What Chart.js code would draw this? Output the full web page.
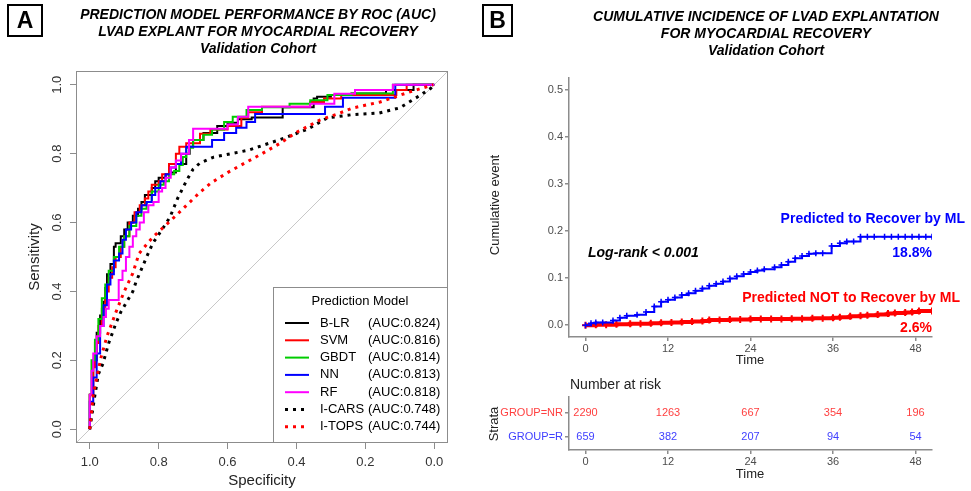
<!DOCTYPE html>
<html>
<head>
<meta charset="utf-8">
<title>LVAD explant - ROC and cumulative incidence</title>
<script src="https://cdn.jsdelivr.net/npm/chart.js"></script>
<style>
  body { margin: 0; background: #fff; font-family: "Liberation Sans", Arial, sans-serif; }
  #page { position: relative; width: 971px; height: 491px; overflow: hidden; }
  canvas { position: absolute; }
  .tag { position: absolute; border: 2px solid #000; box-sizing: border-box; font-weight: bold; font-size: 23px; text-align: center; }
  .title { position: absolute; width: 440px; text-align: center; font-weight: bold; font-style: italic; font-size: 14px; line-height: 17px; color: #000; }
</style>
</head>
<body>
<div id="page">
  <canvas id="rocChart" width="460" height="491" style="left:0;top:0"></canvas>
  <canvas id="kmChart" width="491" height="310" style="left:480px;top:60px"></canvas>
  <canvas id="riskChart" width="491" height="121" style="left:480px;top:370px"></canvas>

  <div class="tag" style="left:7px;top:4px;width:36px;height:33px;line-height:29px;">A</div>
  <div class="title" style="left:38px;top:6px;">PREDICTION MODEL PERFORMANCE BY ROC (AUC)<br>LVAD EXPLANT FOR MYOCARDIAL RECOVERY<br>Validation Cohort</div>

  <div class="tag" style="left:482px;top:4px;width:31px;height:33px;line-height:29px;">B</div>
  <div class="title" style="left:546px;top:8px;">CUMULATIVE INCIDENCE OF LVAD EXPLANTATION<br>FOR MYOCARDIAL RECOVERY<br>Validation Cohort</div>
</div>
<script>
Chart.defaults.font.family = '"Liberation Sans", Arial, sans-serif';
Chart.defaults.animation = false;

// ---- panel A : ROC curves (specificity, sensitivity) ----
const rocTicks = [1.0, 0.8, 0.6, 0.4, 0.2, 0.0];
const modelNames = ['B-LR', 'SVM', 'GBDT', 'NN', 'RF', 'I-CARS', 'I-TOPS'];
const modelAuc = ['(AUC:0.824)', '(AUC:0.816)', '(AUC:0.814)', '(AUC:0.813)', '(AUC:0.818)', '(AUC:0.748)', '(AUC:0.744)'];

const blrSpec = [1, 1, .99, .98, .97, .96, .955, .95, .94, .93, .925, .91, .90, .89, .875, .86, .85, .84, .82, .81, .80, .78, .77, .75, .72, .71, .70, .67, .63, .60, .57, .53, .52, .44, .42, .35, .34, .30, .24, .14, .06, .05, 0];
const blrSens = [0, .03, .1, .2, .28, .33, .37, .41, .45, .48, .53, .54, .56, .58, .6, .62, .64, .66, .68, .70, .72, .73, .74, .745, .77, .80, .82, .84, .86, .88, .89, .90, .905, .905, .935, .935, .96, .965, .97, .975, .985, 1, 1];

const svmSpec = [1, .99, .985, .975, .965, .955, .945, .935, .925, .91, .90, .885, .87, .855, .84, .83, .82, .80, .79, .77, .75, .74, .72, .68, .65, .60, .56, .54, .50, .49, .36, .32, .27, .11, .08, .035, 0];
const svmSens = [0, .1, .18, .25, .3, .35, .4, .44, .47, .5, .53, .56, .6, .63, .65, .67, .69, .71, .72, .74, .77, .8, .82, .83, .858, .87, .88, .904, .92, .936, .936, .95, .96, .97, .985, 1, 1];

const gbdtSpec = [1, .995, .985, .975, .965, .955, .945, .93, .915, .90, .885, .865, .85, .835, .82, .80, .785, .77, .755, .74, .73, .72, .70, .67, .645, .61, .585, .545, .50, .42, .36, .31, .24, .12, .115, 0];
const gbdtSens = [0, .1, .2, .26, .32, .38, .42, .46, .5, .53, .56, .59, .62, .64, .66, .69, .71, .72, .74, .75, .767, .79, .817, .84, .855, .87, .892, .907, .927, .935, .945, .955, .97, .975, 1, 1];

const nnSpec = [1, .99, .98, .97, .96, .95, .94, .93, .915, .905, .895, .88, .865, .85, .835, .82, .81, .795, .78, .765, .75, .735, .72, .70, .645, .61, .575, .545, .52, .50, .317, .265, .113, .11, 0];
const nnSens = [0, .08, .15, .22, .3, .36, .42, .45, .49, .51, .55, .58, .6, .63, .65, .66, .68, .7, .72, .74, .76, .77, .8, .82, .82, .84, .86, .875, .892, .915, .915, .936, .962, 1, 1];

const rfSpec = [1, .995, .99, .98, .97, .96, .953, .945, .933, .916, .905, .895, .885, .875, .865, .855, .843, .83, .815, .80, .79, .78, .765, .75, .735, .712, .70, .68, .60, .57, .54, .50, .36, .29, .23, .12, .10, 0];
const rfSens = [0, .1, .17, .22, .27, .3, .326, .35, .375, .375, .433, .46, .5, .53, .56, .58, .6, .63, .65, .66, .69, .70, .73, .76, .78, .80, .84, .872, .872, .885, .907, .936, .936, .945, .974, .985, 1, 1];

const carsSpec = [1, .985, .975, .962, .945, .924, .91, .895, .875, .866, .855, .835, .817, .79, .767, .745, .718, .70, .68, .64, .54, .45, .37, .31, .24, .16, .10, .04, .01, 0];
const carsSens = [0, .1, .16, .19, .25, .308, .34, .366, .40, .427, .453, .50, .54, .58, .616, .67, .724, .755, .773, .79, .81, .84, .87, .904, .913, .918, .933, .97, .99, 1];

const topsSpec = [1, .99, .968, .95, .924, .90, .875, .857, .817, .785, .75, .712, .68, .648, .60, .544, .50, .448, .398, .331, .282, .235, .157, .078, .003];
const topsSens = [0, .1, .206, .27, .34, .40, .453, .51, .558, .587, .62, .657, .688, .715, .745, .776, .80, .83, .863, .898, .915, .933, .95, .977, 1];

// ---- panel B : cumulative incidence (months, cumulative event) ----
const kmTicksX = [0, 12, 24, 36, 48];
const kmTicksY = [0, 0.1, 0.2, 0.3, 0.4, 0.5];

const blueT = [0, .8, 1.5, 2.5, 4, 5, 6, 7.5, 8.8, 10, 11, 12, 13, 14, 15, 16, 17, 18, 19, 20, 21, 22, 23, 24, 25, 26, 27.5, 28.5, 29.5, 30.5, 31.5, 32.5, 33.5, 34.5, 35.8, 37, 38, 39, 40, 41, 42, 43.5, 44.5, 45.5, 46.5, 47.5, 48.5, 49.5, 50.4];
const blueV = [0, .004, .006, .006, .010, .016, .020, .022, .028, .040, .050, .054, .059, .064, .068, .073, .078, .084, .088, .093, .099, .104, .109, .113, .116, .119, .123, .128, .135, .142, .147, .152, .153, .153, .168, .174, .178, .178, .188, .188, .188, .188, .188, .188, .188, .188, .188, .188, .188];

const redT = [0, 1.5, 3, 4.5, 6.5, 8, 9.5, 11, 12.5, 14, 15.5, 17, 18, 19.5, 21, 22.5, 24, 25.5, 27, 28.5, 30, 31.5, 33, 34.5, 36, 37, 38.5, 40, 41, 42.5, 44, 45, 46.5, 47.5, 48.5, 50.4];
const redV = [0, .001, .001, .002, .003, .003, .004, .005, .006, .007, .008, .009, .011, .011, .012, .012, .013, .013, .013, .013, .014, .014, .015, .015, .016, .017, .019, .020, .021, .023, .025, .026, .027, .028, .030, .030];

// number at risk
const riskTimes = [0, 12, 24, 36, 48];
const riskNR = [2290, 1263, 667, 354, 196];
const riskR = [659, 382, 207, 94, 54];
const strataLabels = ['GROUP=R', 'GROUP=NR'];
const strataColors = ['#4040ff', '#ff4040'];

function pts(xs, ys) { return xs.map((x, i) => ({ x: x, y: ys[i] })); }

// draws free text items given in canvas pixels
const textPlugin = {
  id: 'extraText',
  afterDraw(chart, args, opts) {
    const ctx = chart.ctx;
    (opts.items || []).forEach(it => {
      ctx.save();
      ctx.font = it.font;
      ctx.fillStyle = it.color || '#000';
      ctx.textAlign = it.align || 'center';
      ctx.textBaseline = 'middle';
      ctx.translate(it.x, it.y);
      if (it.rotate) ctx.rotate(it.rotate);
      ctx.fillText(it.text, 0, 0);
      ctx.restore();
    });
  }
};

// box, rotated y labels and legend for the ROC plot
const rocDecor = {
  id: 'rocDecor',
  afterDraw(chart) {
    const { ctx, chartArea: a, scales } = chart;
    ctx.save();
    ctx.strokeStyle = '#8c8c8c';
    ctx.lineWidth = 1;
    ctx.strokeRect(a.left + 0.5, a.top + 0.5, a.right - a.left - 1, a.bottom - a.top - 1);

    ctx.fillStyle = '#333';
    ctx.font = '13px "Liberation Sans"';
    ctx.textAlign = 'center';
    ctx.textBaseline = 'middle';
    rocTicks.forEach(v => {
      ctx.save();
      ctx.translate(57, scales.y.getPixelForValue(v));
      ctx.rotate(-Math.PI / 2);
      ctx.fillText(v.toFixed(1), 0, 0);
      ctx.restore();
    });

    // legend
    const lx = 273, ly = 287;
    ctx.fillStyle = '#fff';
    ctx.fillRect(lx, ly, a.right - lx, a.bottom - ly);
    ctx.strokeRect(lx + 0.5, ly + 0.5, a.right - lx - 1, a.bottom - ly - 1);
    ctx.fillStyle = '#000';
    ctx.fillText('Prediction Model', 360, 301);
    ctx.textAlign = 'left';
    chart.data.datasets.filter(d => d.legendIndex !== undefined).forEach(d => {
      const y = 323 + d.legendIndex * 17.3;
      ctx.save();
      ctx.strokeStyle = d.borderColor;
      ctx.lineWidth = d.borderWidth;
      ctx.setLineDash(d.borderDash || []);
      ctx.beginPath();
      ctx.moveTo(285, y);
      ctx.lineTo(309, y);
      ctx.stroke();
      ctx.restore();
      ctx.fillStyle = '#000';
      ctx.fillText(d.label, 320, y);
      ctx.fillText(modelAuc[d.legendIndex], 368, y);
    });
    ctx.restore();
  }
};

const rocSeries = [
  [blrSpec, blrSens, '#000000', false],
  [svmSpec, svmSens, '#ff0000', false],
  [gbdtSpec, gbdtSens, '#00cc00', false],
  [nnSpec, nnSens, '#0000ff', false],
  [rfSpec, rfSens, '#ff00ff', false],
  [carsSpec, carsSens, '#000000', true],
  [topsSpec, topsSens, '#ff0000', true]
];

const rocDatasets = [{
  data: [{ x: 1.04, y: -0.04 }, { x: -0.04, y: 1.04 }],
  borderColor: '#c8c8c8', borderWidth: 1, pointRadius: 0, order: 20
}];
rocSeries.forEach((s, i) => {
  rocDatasets.push({
    label: modelNames[i],
    legendIndex: i,
    data: pts(s[0], s[1]),
    borderColor: s[2],
    borderWidth: s[3] ? 3 : 2,
    borderDash: s[3] ? [3, 5] : undefined,
    stepped: s[3] ? false : 'after',
    pointRadius: 0,
    order: 10 - i
  });
});

new Chart(document.getElementById('rocChart'), {
  type: 'line',
  data: { datasets: rocDatasets },
  plugins: [rocDecor, textPlugin],
  options: {
    responsive: false,
    layout: { padding: { top: 71, right: 12, left: 0, bottom: 0 } },
    plugins: {
      legend: { display: false },
      tooltip: { enabled: false },
      extraText: {
        items: [
          { text: 'Sensitivity', x: 35, y: 257, font: '15px "Liberation Sans"', color: '#222', rotate: -Math.PI / 2 },
          { text: 'Specificity', x: 262, y: 481, font: '15px "Liberation Sans"', color: '#222' }
        ]
      }
    },
    scales: {
      x: {
        type: 'linear', reverse: true, min: -0.04, max: 1.04,
        afterBuildTicks: s => { s.ticks = rocTicks.map(v => ({ value: v })); },
        afterFit: s => { s.height = 48; },
        grid: { drawOnChartArea: false, tickLength: 6, color: '#8c8c8c' },
        border: { display: false },
        ticks: { color: '#333', font: { size: 13 }, padding: 6, maxRotation: 0, callback: v => v.toFixed(1) }
      },
      y: {
        type: 'linear', min: -0.04, max: 1.04,
        afterBuildTicks: s => { s.ticks = rocTicks.map(v => ({ value: v })); },
        afterFit: s => { s.width = 76; },
        grid: { drawOnChartArea: false, tickLength: 6, color: '#8c8c8c' },
        border: { display: false },
        ticks: { display: false }
      }
    }
  }
});

// ---- panel B chart ----
const kmAxisCommon = {
  grid: { drawOnChartArea: false, tickLength: 4, color: '#8c8c8c', lineWidth: 1.5 },
  border: { display: true, color: '#8c8c8c', width: 1.5 }
};

new Chart(document.getElementById('kmChart'), {
  type: 'line',
  data: {
    datasets: [
      {
        label: 'GROUP=R',
        data: pts(blueT, blueV),
        stepped: 'before',
        borderColor: '#0000ff', borderWidth: 2,
        pointStyle: 'cross', pointRadius: 3, pointBorderWidth: 1.5, pointBorderColor: '#0000ff'
      },
      {
        label: 'GROUP=NR',
        data: pts(redT, redV),
        stepped: 'before',
        borderColor: '#ff0000', borderWidth: 4,
        pointStyle: 'cross', pointRadius: 3.5, pointBorderWidth: 2, pointBorderColor: '#ff0000'
      }
    ]
  },
  plugins: [textPlugin],
  options: {
    responsive: false,
    layout: { padding: { top: 18, right: 39, left: 0, bottom: 0 } },
    plugins: {
      legend: { display: false },
      tooltip: { enabled: false },
      extraText: {
        items: [
          { text: 'Cumulative event', x: 15, y: 145, font: '13px "Liberation Sans"', color: '#222', rotate: -Math.PI / 2 },
          { text: 'Time', x: 270, y: 300, font: '13px "Liberation Sans"', color: '#222' },
          { text: 'Predicted to Recover by ML', x: 485, y: 159, align: 'right', font: 'bold 14px "Liberation Sans"', color: '#0000ff' },
          { text: '18.8%', x: 452, y: 193, align: 'right', font: 'bold 14px "Liberation Sans"', color: '#0000ff' },
          { text: 'Log-rank < 0.001', x: 108, y: 193, align: 'left', font: 'italic bold 14px "Liberation Sans"', color: '#000' },
          { text: 'Predicted NOT to Recover by ML', x: 480, y: 238, align: 'right', font: 'bold 14px "Liberation Sans"', color: '#ff0000' },
          { text: '2.6%', x: 452, y: 268, align: 'right', font: 'bold 14px "Liberation Sans"', color: '#ff0000' }
        ]
      }
    },
    scales: {
      x: Object.assign({
        type: 'linear', min: -2.4, max: 50.4,
        afterBuildTicks: s => { s.ticks = kmTicksX.map(v => ({ value: v })); },
        afterFit: s => { s.height = 33; },
        ticks: { color: '#4d4d4d', font: { size: 11 }, padding: 1, maxRotation: 0 }
      }, kmAxisCommon),
      y: Object.assign({
        type: 'linear', min: -0.025, max: 0.525,
        afterBuildTicks: s => { s.ticks = kmTicksY.map(v => ({ value: v })); },
        afterFit: s => { s.width = 89; },
        ticks: { color: '#4d4d4d', font: { size: 11 }, padding: 2, callback: v => v.toFixed(1) }
      }, kmAxisCommon)
    }
  }
});

// ---- number at risk table ----
const riskText = {
  id: 'riskText',
  afterDatasetsDraw(chart) {
    const ctx = chart.ctx;
    ctx.save();
    ctx.font = '11px "Liberation Sans"';
    ctx.textAlign = 'center';
    ctx.textBaseline = 'middle';
    chart.data.datasets.forEach((d, di) => {
      ctx.fillStyle = d.textColor;
      chart.getDatasetMeta(di).data.forEach((p, i) => ctx.fillText(String(d.counts[i]), p.x, p.y));
    });
    ctx.restore();
  }
};

new Chart(document.getElementById('riskChart'), {
  type: 'scatter',
  data: {
    datasets: [
      { data: riskTimes.map(t => ({ x: t, y: 2 })), counts: riskNR, textColor: strataColors[1], pointRadius: 0 },
      { data: riskTimes.map(t => ({ x: t, y: 1 })), counts: riskR, textColor: strataColors[0], pointRadius: 0 }
    ]
  },
  plugins: [riskText, textPlugin],
  options: {
    responsive: false,
    layout: { padding: { top: 27, right: 39, left: 0, bottom: 0 } },
    plugins: {
      legend: { display: false },
      tooltip: { enabled: false },
      extraText: {
        items: [
          { text: 'Number at risk', x: 90, y: 15, align: 'left', font: '14px "Liberation Sans"', color: '#222' },
          { text: 'Strata', x: 14, y: 54, font: '13px "Liberation Sans"', color: '#222', rotate: -Math.PI / 2 },
          { text: 'Time', x: 270, y: 104, font: '13px "Liberation Sans"', color: '#222' }
        ]
      }
    },
    scales: {
      x: Object.assign({
        type: 'linear', min: -2.4, max: 50.4,
        afterBuildTicks: s => { s.ticks = riskTimes.map(v => ({ value: v })); },
        afterFit: s => { s.height = 41; },
        ticks: { color: '#4d4d4d', font: { size: 11 }, padding: 1, maxRotation: 0 }
      }, kmAxisCommon),
      y: Object.assign({
        type: 'linear', min: 0.46, max: 2.67,
        afterBuildTicks: s => { s.ticks = [{ value: 1 }, { value: 2 }]; },
        afterFit: s => { s.width = 89; },
        ticks: {
          font: { size: 11 }, padding: 2,
          color: c => strataColors[c.tick.value - 1],
          callback: v => strataLabels[v - 1]
        }
      }, kmAxisCommon)
    }
  }
});
</script>
</body>
</html>
